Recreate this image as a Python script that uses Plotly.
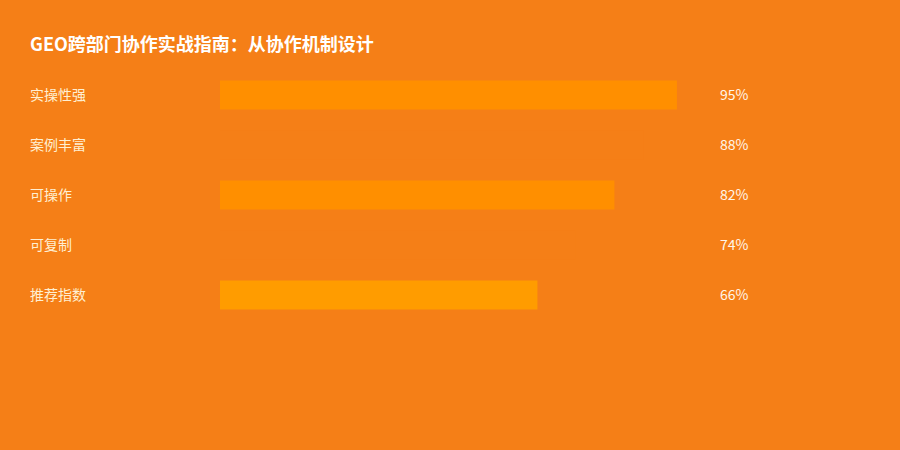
import plotly.graph_objects as go

BG = "#F57F17"

title = "GEO跨部门协作实战指南：从协作机制设计"
labels = ["实操性强", "案例丰富", "可操作", "可复制", "推荐指数"]
values = [95, 88, 82, 74, 66]
bar_colors = ["#FF8F00", BG, "#FF8F00", BG, "#FF9C00"]

fig = go.Figure()

fig.add_trace(go.Bar(
    x=values, y=labels,
    orientation="h",
    marker_color=bar_colors,
    marker_line_width=0,
    hoverinfo="skip",
    showlegend=False,
))

# row labels on the left, values on the right
for lab, v in zip(labels, values):
    fig.add_annotation(
        x=0, xref="paper", y=lab, yref="y",
        text=lab, showarrow=False, xanchor="left", xshift=-2, yshift=1,
        font=dict(size=14, color="#FFEFD2"),
    )
    fig.add_annotation(
        x=(720 - 30) / 840, xref="paper", y=lab, yref="y",
        text=f"{v}%", showarrow=False, xanchor="left", xshift=-2, yshift=1,
        font=dict(size=14, color="#FFF6EA"),
    )

fig.update_layout(
    title=dict(
        text="<b>" + title + "</b>",
        font=dict(size=18, color="white"),
        x=30 / 900, xanchor="left", y=1 - 45 / 450, yanchor="middle",
    ),
    width=900, height=450,
    paper_bgcolor=BG,
    plot_bgcolor=BG,
    margin=dict(l=30, r=30, t=70, b=130),
    bargap=0.42,
    font=dict(family="Noto Sans CJK SC, Noto Sans, sans-serif", size=14, color="white"),
)

fig.update_xaxes(range=[0, 100], domain=[190 / 840, 671 / 840],
                 visible=False, fixedrange=True)
fig.update_yaxes(autorange="reversed", showticklabels=False, showgrid=False,
                 zeroline=False, fixedrange=True)

fig.write_html("out.html", config={"displayModeBar": False},
               post_script="document.body.style.margin='0';")
